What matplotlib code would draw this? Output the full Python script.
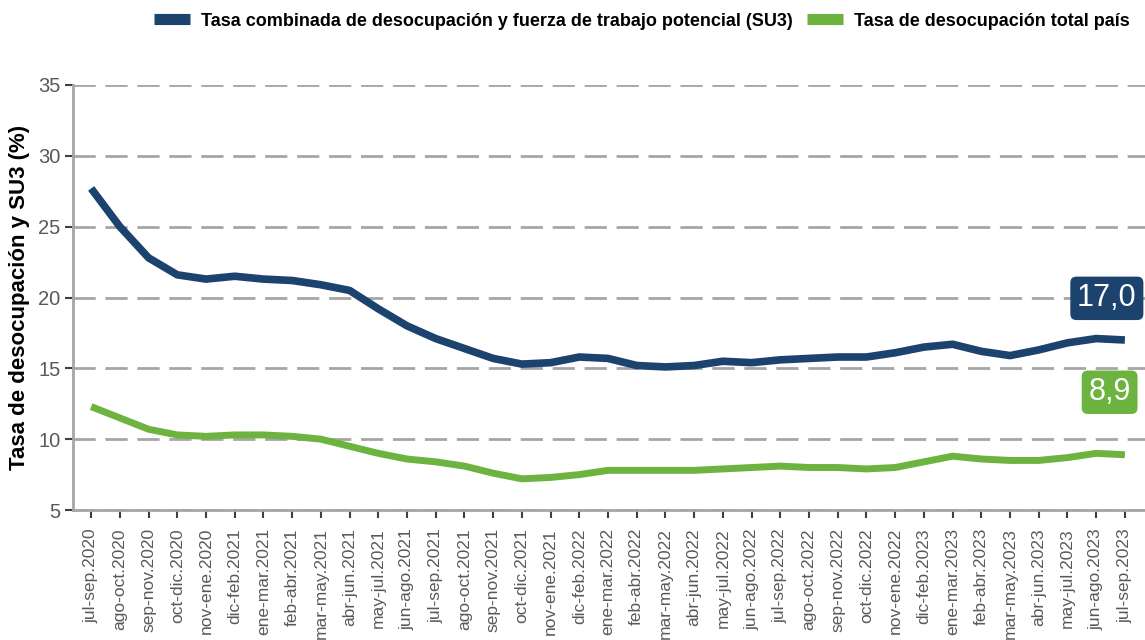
import matplotlib.pyplot as plt
import numpy as np

# %% Datos
trimestres = [
    "jul-sep.2020", "ago-oct.2020", "sep-nov.2020", "oct-dic.2020", "nov-ene.2020",
    "dic-feb.2021", "ene-mar.2021", "feb-abr.2021", "mar-may.2021", "abr-jun.2021",
    "may-jul.2021", "jun-ago.2021", "jul-sep.2021", "ago-oct.2021", "sep-nov.2021",
    "oct-dic.2021", "nov-ene.2021", "dic-feb.2022", "ene-mar.2022", "feb-abr.2022",
    "mar-may.2022", "abr-jun.2022", "may-jul.2022", "jun-ago.2022", "jul-sep.2022",
    "ago-oct.2022", "sep-nov.2022", "oct-dic.2022", "nov-ene.2022", "dic-feb.2023",
    "ene-mar.2023", "feb-abr.2023", "mar-may.2023", "abr-jun.2023", "may-jul.2023",
    "jun-ago.2023", "jul-sep.2023",
]

su3 = [
    27.7, 25.0, 22.8, 21.6, 21.3, 21.5, 21.3, 21.2, 20.9, 20.5,
    19.2, 18.0, 17.1, 16.4, 15.7, 15.3, 15.4, 15.8, 15.7, 15.2,
    15.1, 15.2, 15.5, 15.4, 15.6, 15.7, 15.8, 15.8, 16.1, 16.5,
    16.7, 16.2, 15.9, 16.3, 16.8, 17.1, 17.0,
]

desocupacion = [
    12.3, 11.5, 10.7, 10.3, 10.2, 10.3, 10.3, 10.2, 10.0, 9.5,
    9.0, 8.6, 8.4, 8.1, 7.6, 7.2, 7.3, 7.5, 7.8, 7.8,
    7.8, 7.8, 7.9, 8.0, 8.1, 8.0, 8.0, 7.9, 8.0, 8.4,
    8.8, 8.6, 8.5, 8.5, 8.7, 9.0, 8.9,
]

azul = "#1b436e"
verde = "#6db33f"
gris = "#595959"

plt.rcParams["font.family"] = ["Liberation Sans", "DejaVu Sans"]

# %% Figura
fig = plt.figure(figsize=(11.45, 6.4), dpi=100)
ax = fig.add_axes([0.0638, 0.2031, 0.9362, 0.6641])

x = np.arange(len(trimestres))
ax.plot(x, su3, color=azul, lw=5.5, solid_capstyle="butt",
        label="Tasa combinada de desocupación y fuerza de trabajo potencial (SU3)")
ax.plot(x, desocupacion, color=verde, lw=5, solid_capstyle="butt",
        label="Tasa de desocupación total país")

ax.set_xlim(-0.63, 36.7)
ax.set_ylim(5, 35)
ax.set_yticks(np.arange(5, 36, 5))
ax.set_xticks(x)
ax.set_xticklabels(trimestres, rotation=90, fontsize=12.5, color=gris)
ax.tick_params(axis="y", labelsize=14.5, labelcolor=gris, length=6, width=1.5,
               color="#404040", pad=3)
ax.tick_params(axis="x", length=6, width=1.5, color="#404040", pad=7)

ax.yaxis.grid(True, color="#a6a6a6", lw=2, dashes=(8, 3.5))
ax.set_axisbelow(True)
for s in ["top", "right"]:
    ax.spines[s].set_visible(False)
for s in ["left", "bottom"]:
    ax.spines[s].set_color("#a6a6a6")
    ax.spines[s].set_linewidth(2)

ax.set_ylabel("Tasa de desocupación y SU3 (%)", fontsize=16, fontweight="bold",
              labelpad=6)

# Etiquetas del último valor
ax.annotate(f"{su3[-1]:.1f}".replace(".", ","), xy=(x[-1], su3[-1]),
            xytext=(-13, 30), textcoords="offset points", ha="center", va="center",
            fontsize=22, color="white",
            bbox=dict(boxstyle="round,pad=0.22,rounding_size=0.2", fc=azul, ec="none"),
            annotation_clip=False)
ax.annotate(f"{desocupacion[-1]:.1f}".replace(".", ","), xy=(x[-1], desocupacion[-1]),
            xytext=(-11, 45), textcoords="offset points", ha="center", va="center",
            fontsize=22, color="white",
            bbox=dict(boxstyle="round,pad=0.22,rounding_size=0.2", fc=verde, ec="none"),
            annotation_clip=False)

leg = fig.legend(loc="upper right", bbox_to_anchor=(0.998, 1.0), ncol=2,
                 frameon=False, handlelength=2.0, handletextpad=0.6,
                 columnspacing=0.8, borderaxespad=0.3,
                 prop={"weight": "bold", "size": 13})
for h in leg.legend_handles:
    h.set_linewidth(8)

fig.savefig("out.png", dpi=100)
